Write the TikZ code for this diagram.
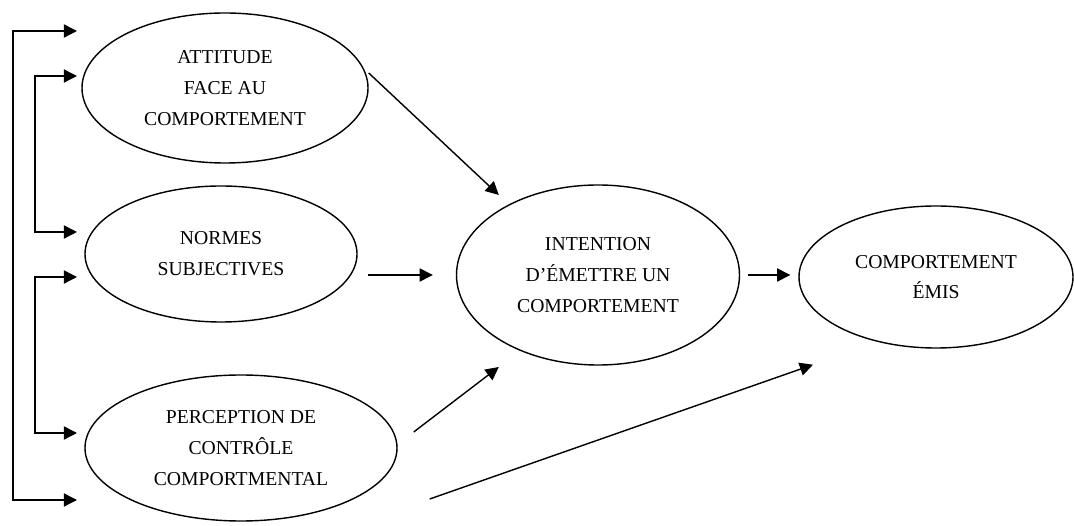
\documentclass[tikz,border=0pt]{standalone}
\usepackage{fontspec}
\setmainfont{Liberation Serif}
\usepackage{tikz}
\usetikzlibrary{calc,shapes.geometric,arrows.meta}

\tikzset{
  bubble/.style={draw, ellipse, line width=0.8pt, inner sep=0pt, align=center,
    font=\fontsize{11.2}{17.5}\selectfont},
  arr/.style={line width=0.8pt, -{Triangle[length=7.5pt,width=7.5pt]}},
  biarr/.style={line width=0.8pt, {Triangle[length=7.5pt,width=7.5pt]}-{Triangle[length=7.5pt,width=7.5pt]}}
}

\begin{document}
\begin{tikzpicture}
    \useasboundingbox (0,0) rectangle (21.48,-10.52);

    % Ellipses
    \node[bubble, minimum width=5.72cm, minimum height=3cm] (att) at (4.5,-1.76)
        {ATTITUDE\\FACE AU\\COMPORTEMENT};
    \node[bubble, minimum width=5.44cm, minimum height=2.72cm] (norm) at (4.42,-5.08)
        {NORMES\\SUBJECTIVES};
    \node[bubble, minimum width=6.24cm, minimum height=2.92cm] (perc) at (4.82,-8.96)
        {PERCEPTION DE\\CONTRÔLE\\COMPORTMENTAL};
    \node[bubble, minimum width=5.66cm, minimum height=3.6cm] (int) at (11.96,-5.5)
        {INTENTION\\D'ÉMETTRE UN\\COMPORTEMENT};
    \node[bubble, minimum width=5.48cm, minimum height=2.84cm] (emis) at (18.72,-5.54)
        {COMPORTEMENT\\ÉMIS};

    % Left brackets
    \coordinate (o1) at (1.54,-0.62);
    \coordinate (o2) at (1.54,-10.0);
    \coordinate (a1) at (1.54,-1.52);
    \coordinate (a2) at (1.54,-4.64);
    \coordinate (b1) at (1.54,-5.54);
    \coordinate (b2) at (1.54,-8.66);
    \draw[biarr] (o1) -- ++(-1.28,0) |- (o2);
    \draw[biarr] (a1) -- ++(-0.84,0) |- (a2);
    \draw[biarr] (b1) -- ++(-0.84,0) |- (b2);

    % Links
    \draw[arr] ([yshift=0.3cm]att.east) -- ([shift={(0.86,1.6)}]int.west);
    \draw[arr] ($(norm.east |- int.west)+(0.2,0)$) -- ([xshift=-0.46cm]int.west);
    \draw[arr] ([shift={(0.32,0.32)}]perc.east) -- ([shift={(0.86,-1.84)}]int.west);
    \draw[arr] ([xshift=0.16cm]int.east) -- ($(int.east -| emis.west)+(-0.16,0)$);
    \draw[arr] ([shift={(0.64,-1.02)}]perc.east) -- ([shift={(-2.46,-0.32)}]emis.south);
\end{tikzpicture}
\end{document}
